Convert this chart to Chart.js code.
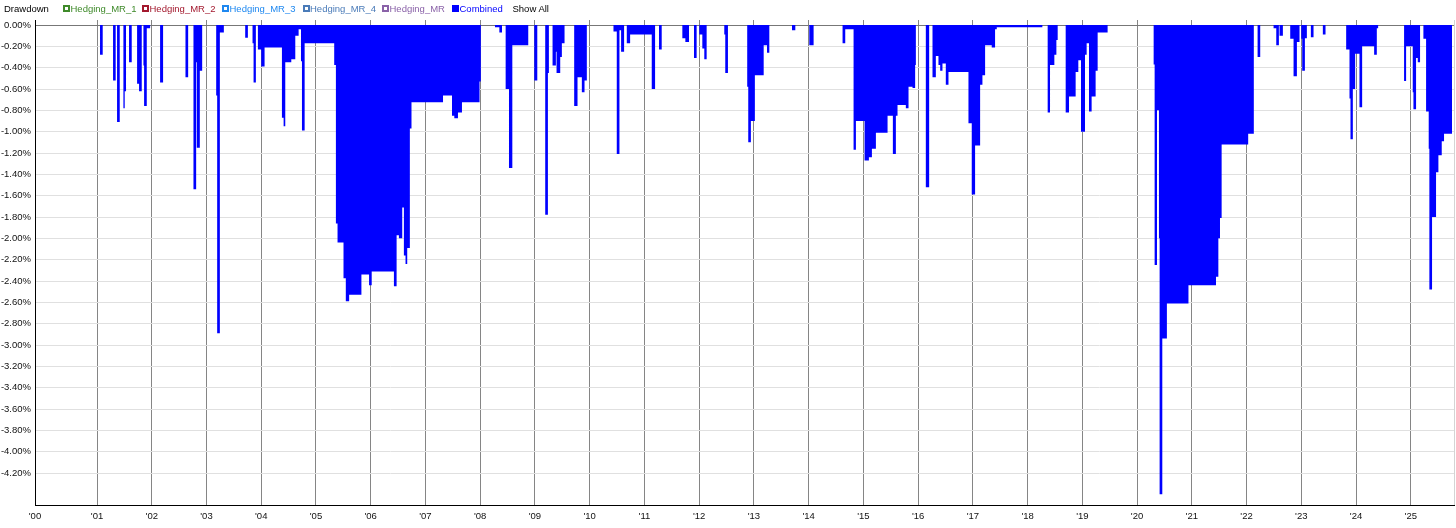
<!DOCTYPE html>
<html><head><meta charset="utf-8">
<script src="https://cdn.jsdelivr.net/npm/chart.js@4.4.1/dist/chart.umd.min.js"></script>
<style>
html,body{margin:0;padding:0;background:#fff;}
#wrap{position:relative;width:1456px;height:528px;overflow:hidden;}
#legend{position:absolute;left:0;top:0;height:17px;width:1456px;font:9.5px "Liberation Sans",Arial,sans-serif;}
.it{position:absolute;top:3px;line-height:11px;white-space:nowrap;}
.bx{position:absolute;top:5px;width:3px;height:3px;border:2px solid;background:#fff;}
</style></head>
<body><div id="wrap"><canvas id="c" width="1456" height="528"></canvas><div id="legend"></div></div>
<script>
// ---- data ----
const chartTitle = "Drawdown";
const seriesNames = ["Hedging_MR_1","Hedging_MR_2","Hedging_MR_3","Hedging_MR_4","Hedging_MR","Combined"];
const seriesColors = ["#3f8a2a","#a3192e","#1e88f0","#4a7bb8","#8a62a8","#0000ff"];
const seriesFilled = [false,false,false,false,false,true];
const showAllLabel = "Show All";

// decimal year at which each drawdown level starts (holds until next date)
const dates = [
1999.867,
2001.055,2001.104,2001.293,2001.341,2001.366,2001.415,2001.482,2001.506,2001.530,2001.585,2001.634,
2001.732,2001.768,2001.817,2001.848,2001.860,2001.909,2001.970,2002.152,2002.207,2002.616,2002.665,
2002.762,2002.811,2002.823,2002.878,2002.921,2003.177,2003.195,2003.244,2003.317,2003.707,2003.756,
2003.841,2003.860,2003.902,2003.939,2004.000,2004.061,2004.378,2004.409,2004.439,2004.549,2004.622,
2004.683,2004.726,2004.744,2004.793,2005.333,2005.364,2005.394,2005.503,2005.545,2005.606,2005.830,
2005.970,2006.018,2006.424,2006.473,2006.515,2006.576,2006.606,2006.636,2006.667,2006.715,2006.745,
2007.321,2007.485,2007.527,2007.594,2007.667,2007.988,2008.012,
2008.270,2008.350,2008.398,2008.465,2008.526,2008.587,2008.878,2008.988,2009.043,2009.188,2009.237,
2009.255,2009.322,2009.383,2009.395,2009.462,2009.492,2009.541,2009.717,2009.778,2009.857,2009.906,
2009.948,2010.435,2010.495,2010.544,2010.574,2010.629,2010.678,2010.739,2011.134,2011.195,2011.267,
2011.316,2011.693,2011.748,2011.815,2011.906,2011.954,2012.003,2012.058,2012.094,2012.137,2012.459,
2012.477,2012.526,2012.878,2012.897,2012.945,2013.018,2013.179,2013.240,2013.282,2013.696,2013.757,
2014.012,2014.091,2014.620,2014.669,2014.821,2014.864,2015.022,2015.101,2015.156,2015.229,2015.442,
2015.539,2015.594,2015.624,2015.776,2015.825,2015.898,2015.946,2015.959,2016.141,2016.202,2016.263,
2016.324,2016.372,2016.403,2016.445,2016.506,2016.555,2016.920,2016.980,2017.041,2017.133,2017.175,
2017.224,2017.345,2017.406,2017.437,2018.270,2018.367,2018.410,2018.489,2018.526,2018.550,2018.696,
2018.757,2018.878,2018.927,2018.976,2019.049,2019.079,2019.122,2019.170,2019.243,2019.280,2019.462,
2020.303,2020.321,2020.364,2020.400,2020.412,2020.461,2020.545,2020.939,2021.442,2021.485,2021.515,
2021.545,2022.030,2022.133,2022.202,2022.250,2022.494,2022.543,2022.591,2022.603,2022.664,2022.798,
2022.859,2022.920,2022.968,2022.999,2023.017,2023.066,2023.102,2023.175,2023.224,2023.394,2023.443,
2023.820,2023.881,2023.899,2023.942,2023.984,2024.063,2024.112,2024.331,2024.380,2024.404,2024.878,
2024.915,2025.036,2025.049,2025.097,2025.128,2025.170,2025.231,2025.280,2025.328,2025.340,2025.389,
2025.462,2025.505,2025.566,2025.608,2025.754
];
// drawdown in percent
const drawdown = [
0,
-0.28,0,-0.52,0,-0.91,0,-0.78,-0.62,0,-0.35,0,
-0.55,-0.62,0,-0.38,-0.76,-0.03,0,-0.54,0,-0.49,0,
-1.54,-0.35,-1.15,-0.43,0,-0.66,-2.89,-0.07,0,-0.12,0,
-0.17,-0.54,0,-0.23,-0.39,-0.21,-0.87,-0.95,-0.35,-0.32,-0.10,
-0.04,-0.34,-0.99,-0.17,-0.375,-1.86,-2.04,-2.375,-2.59,-2.53,-2.34,
-2.44,-2.31,-2.45,-1.97,-2.00,-1.71,-2.16,-2.24,-2.09,-0.97,-0.725,
-0.66,-0.85,-0.875,-0.82,-0.725,-0.53,0,
-0.02,-0.07,0,-0.60,-1.34,-0.19,0,-0.52,0,-1.78,-0.45,
0,-0.38,-0.25,-0.45,-0.30,-0.17,0,-0.76,-0.49,-0.63,-0.52,
0,-0.06,-1.21,-0.05,-0.25,0,-0.17,-0.09,-0.60,0,-0.23,
0,-0.125,-0.16,0,-0.31,0,-0.09,-0.22,-0.32,0,-0.09,
-0.45,0,-0.58,-1.10,-0.90,-0.47,-0.19,-0.26,0,-0.05,0,
-0.19,0,-0.17,-0.04,-1.17,-0.90,-1.27,-1.24,-1.16,-1.01,-0.85,
-1.21,-0.85,-0.75,-0.78,-0.58,-0.59,-0.375,0,-1.52,0,-0.49,
-0.29,-0.375,-0.43,-0.36,-0.56,-0.44,-0.92,-1.59,-1.13,-0.56,-0.47,
-0.19,-0.21,-0.04,-0.02,0,-0.82,-0.375,-0.28,-0.14,0,-0.82,
-0.67,-0.44,-0.33,-1.00,-0.28,-0.17,-0.81,-0.67,-0.43,-0.07,0,
-0.37,-2.25,-0.80,-2.00,-4.40,-2.94,-2.61,-2.44,-2.36,-2.00,-1.81,
-1.12,-1.02,0,-0.30,0,-0.03,-0.19,0,-0.10,0,-0.13,
-0.48,-0.16,0,-0.13,-0.43,-0.125,0,-0.115,0,-0.09,0,
-0.23,-0.69,-1.07,-0.60,-0.27,-0.77,-0.20,-0.28,-0.03,0,-0.525,
-0.20,-0.63,-0.79,-0.31,-0.35,0,-0.13,-0.81,-1.16,-2.48,-1.80,
-1.38,-1.22,-1.09,-1.02,-1.02
];

const xMin = 1999.867, xMax = 2025.79;
const xTickValues = [1999.867,2001,2002,2003,2004,2005,2006,2007,2008,2009,2010,2011,2012,2013,2014,2015,2016,2017,2018,2019,2020,2021,2022,2023,2024,2025];
const xTickLabels = ["'00","'01","'02","'03","'04","'05","'06","'07","'08","'09","'10","'11","'12","'13","'14","'15","'16","'17","'18","'19","'20","'21","'22","'23","'24","'25"];
const yMin = -4.5, yMax = 0.0469;
const yTickValues = [0,-0.2,-0.4,-0.6,-0.8,-1.0,-1.2,-1.4,-1.6,-1.8,-2.0,-2.2,-2.4,-2.6,-2.8,-3.0,-3.2,-3.4,-3.6,-3.8,-4.0,-4.2];
const yTickLabels = ["0.00%","-0.20%","-0.40%","-0.60%","-0.80%","-1.00%","-1.20%","-1.40%","-1.60%","-1.80%","-2.00%","-2.20%","-2.40%","-2.60%","-2.80%","-3.00%","-3.20%","-3.40%","-3.60%","-3.80%","-4.00%","-4.20%"];

// ---- legend (HTML text) ----
const legendPos = [63,142,222,302.5,382,452];
const lg = document.getElementById('legend');
function add(cls, left, text, color){
  const e = document.createElement('span'); e.className = cls; e.style.left = left + 'px';
  if (text !== null) e.textContent = text;
  if (color) e.style.color = color;
  lg.appendChild(e); return e;
}
add('it', 4, chartTitle, '#000');
seriesNames.forEach((n,i)=>{
  const b = add('bx', legendPos[i], null, null);
  b.style.borderColor = seriesColors[i];
  if (seriesFilled[i]) b.style.background = seriesColors[i];
  add('it', legendPos[i] + 7.5, n, seriesColors[i]);
});
add('it', 512.5, showAllLabel, '#000');

// ---- chart ----
Chart.defaults.font.family = '"Liberation Sans", Arial, sans-serif';
Chart.defaults.font.size = 9.5;
Chart.defaults.color = '#111';

new Chart(document.getElementById('c'), {
  type: 'line',
  data: { datasets: [{
    label: seriesNames[5],
    data: dates.map((d,i)=>({x:d, y:drawdown[i]})),
    stepped: true,
    fill: 'origin',
    backgroundColor: seriesColors[5],
    borderColor: seriesColors[5],
    borderWidth: 0,
    pointRadius: 0,
    tension: 0
  }]},
  options: {
    responsive: false, animation: false, devicePixelRatio: 1,
    layout: { padding: { top: 20, right: 2, left: 0, bottom: 0 } },
    plugins: { legend: { display: false }, tooltip: { enabled: false } },
    scales: {
      x: {
        type: 'linear', min: xMin, max: xMax,
        afterBuildTicks: s => { s.ticks = xTickValues.map(v=>({value:v})).concat([{value:xMax}]); },
        afterFit: s => { s.height = 23; s.paddingRight = 0; s.paddingLeft = 0; },
        ticks: { autoSkip: false, maxRotation: 0, padding: 6, color: '#111',
          callback: (v, i) => (i < xTickLabels.length ? xTickLabels[i] : '') },
        grid: { drawTicks: false,
          color: c => { const v = c.tick ? c.tick.value : null;
            if (v === xMin) return 'rgba(0,0,0,0)';
            if (v === xMax) return '#d4d4d4';
            return '#858585'; } },
        border: { color: '#000', width: 1 }
      },
      y: {
        type: 'linear', min: yMin, max: yMax,
        afterBuildTicks: s => { s.ticks = yTickValues.map(v=>({value:v})); },
        afterFit: s => { s.width = 35; },
        ticks: { padding: 4, color: '#111',
          callback: (v, i) => yTickLabels[i] },
        grid: { drawTicks: false,
          color: c => (c.tick && c.tick.value === 0) ? '#777777' : '#e0e0e0' },
        border: { color: '#000', width: 1 }
      }
    }
  }
});
</script>
</body></html>
